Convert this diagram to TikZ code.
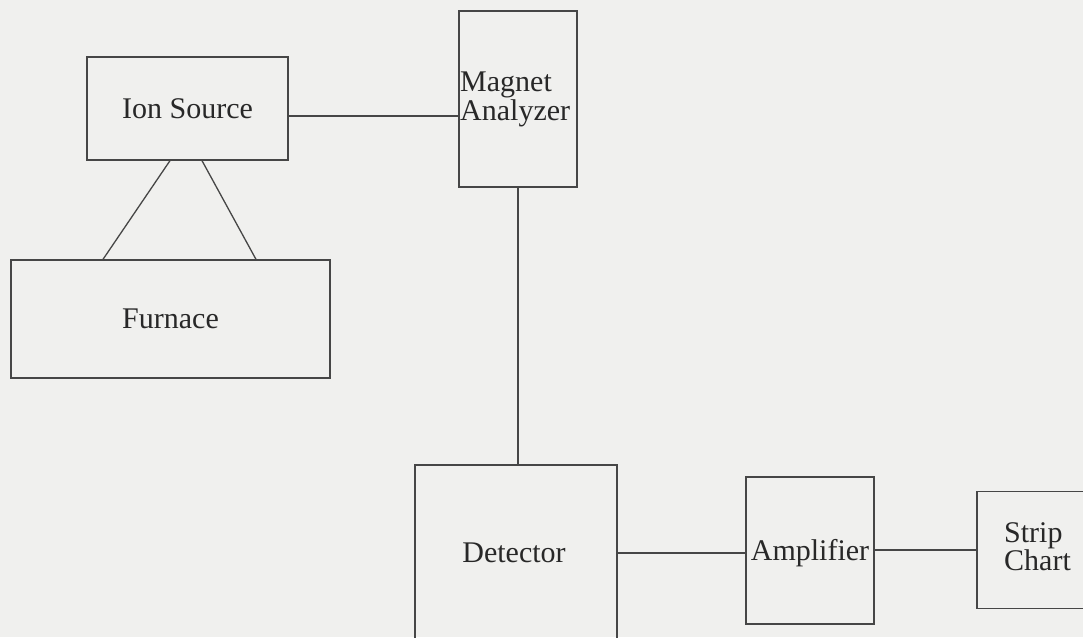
\documentclass[tikz,border=0pt]{standalone}
\usepackage{fontspec}
\setmainfont{Liberation Serif}
\definecolor{paper}{RGB}{240,240,238}
\definecolor{ink}{RGB}{70,70,70}
\definecolor{txt}{RGB}{40,40,40}
\tikzset{
  blk/.style={draw=ink, line width=1.3pt, rectangle, inner sep=0pt},
  lbl/.style={text=txt, inner sep=0pt, font=\fontsize{30}{30}\selectfont},
  wire/.style={draw=ink, line width=1.3pt}
}
\begin{document}
\begin{tikzpicture}[x=1pt,y=-1pt]
\fill[paper] (0,0) rectangle (1083,637);
\useasboundingbox (0,0) rectangle (1083,637);
\clip (0,0) rectangle (1083,637);
% boxes
\node[blk, minimum width=201pt, minimum height=103pt] (ion) at (187.5,108.5) {};
\node[lbl] (iont) at (187.5,108.5) {Ion Source};
\node[blk, minimum width=319pt, minimum height=118pt] (fur) at (170.5,319) {};
\node[lbl] (furt) at (170.5,319) {Furnace};
\node[blk, minimum width=118pt, minimum height=176pt] (mag) at (518,99) {};
\node[lbl, anchor=west, align=left, font=\fontsize{30}{29}\selectfont] (magt) at (460,99) {Magnet\\Analyzer};
\node[blk, minimum width=202pt, minimum height=215pt] (det) at (516,572.5) {};
\node[lbl] (dett) at (514,553) {Detector};
\node[blk, minimum width=128pt, minimum height=147pt] (amp) at (810,550.5) {};
\node[lbl] (ampt) at (810,553) {Amplifier};
\node[blk, minimum width=140pt, minimum height=117pt] (strip) at (1047,550) {};
\node[lbl, anchor=west, align=left, font=\fontsize{30}{19}\selectfont] (stript) at (1004,547) {Strip\\Chart};
% connectors
\coordinate (a) at ([yshift=-7.5pt]ion.east);
\draw[wire] (a) -- (a -| mag.west);
\draw[wire] ([xshift=-17.5pt]ion.south) -- ([xshift=-67.5pt]fur.north);
\draw[wire] ([xshift=14.5pt]ion.south) -- ([xshift=85.5pt]fur.north);
\draw[wire] (mag.south) -- (mag.south |- det.north);
\coordinate (b) at (det.east |- dett);
\draw[wire] (b) -- (b -| amp.west);
\coordinate (c) at (amp.east |- strip.west);
\draw[wire] (c) -- (strip.west);
\end{tikzpicture}
\end{document}
